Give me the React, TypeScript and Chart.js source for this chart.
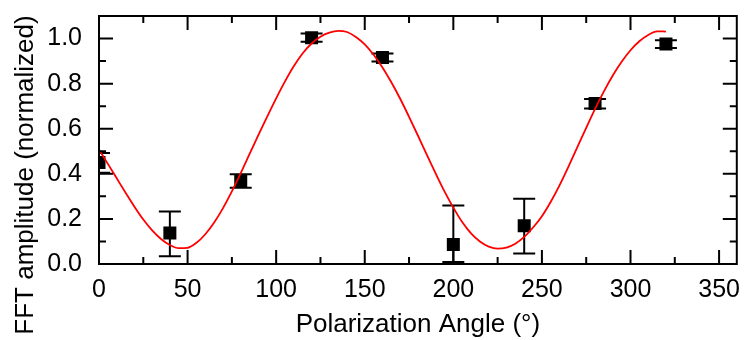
import React, { useEffect, useRef } from 'react';
import { Chart, registerables } from 'chart.js';

Chart.register(...registerables);

// Measured points
const angles = [0, 40, 80, 120, 160, 200, 240, 280, 320];
const amplitudes = [0.45, 0.138, 0.368, 1.004, 0.916, 0.086, 0.17, 0.712, 0.976];
const errLower = [0.405, 0.034, 0.338, 0.986, 0.898, 0.009, 0.047, 0.69, 0.958];
const errUpper = [0.492, 0.233, 0.398, 1.022, 0.934, 0.26, 0.289, 0.732, 0.992];

// Fitted curve
const fitAngles = [
  0, 5, 10, 15, 20, 25, 30, 35, 40, 45, 50, 55, 60, 65, 70, 75, 80, 85, 90, 95,
  100, 105, 110, 115, 120, 125, 130, 135, 140, 145, 150, 155, 160, 165, 170, 175,
  180, 185, 190, 195, 200, 205, 210, 215, 220, 225, 230, 235, 240, 245, 250, 255,
  260, 265, 270, 275, 280, 285, 290, 295, 300, 305, 310, 315, 320,
];
const fitValues = [
  0.508, 0.444, 0.38, 0.316, 0.254, 0.197, 0.149, 0.111, 0.084, 0.07, 0.072, 0.094,
  0.132, 0.184, 0.248, 0.322, 0.403, 0.488, 0.573, 0.655, 0.735, 0.81, 0.878, 0.935,
  0.978, 1.008, 1.026, 1.034, 1.029, 1.007, 0.974, 0.928, 0.872, 0.806, 0.733, 0.653,
  0.57, 0.485, 0.402, 0.322, 0.25, 0.186, 0.136, 0.1, 0.077, 0.068, 0.073, 0.09,
  0.12, 0.162, 0.212, 0.276, 0.35, 0.432, 0.518, 0.604, 0.688, 0.766, 0.836, 0.897,
  0.948, 0.988, 1.016, 1.032, 1.031,
];

const xTickValues = [0, 50, 100, 150, 200, 250, 300, 350];
const xTickLabels = ['0', '50', '100', '150', '200', '250', '300', '350'];
const xMinorTicks = [25, 75, 125, 175, 225, 275, 325];
const yTickValues = [0, 0.2, 0.4, 0.6, 0.8, 1.0];
const yTickLabels = ['0.0', '0.2', '0.4', '0.6', '0.8', '1.0'];
const yMinorTicks = [0.1, 0.3, 0.5, 0.7, 0.9];

const xTitle = 'Polarization Angle (°)';
const yTitle = 'FFT amplitude (normalized)';

const FONT = '"Liberation Sans", Arial, sans-serif';

const framePlugin = {
  id: 'framePlugin',
  beforeDatasetsDraw(chart: any) {
    const { ctx, chartArea: a, scales } = chart;
    const xs = scales.x;
    const ys = scales.y;
    ctx.save();
    ctx.beginPath();
    ctx.rect(a.left, a.top, a.right - a.left, a.bottom - a.top);
    ctx.clip();
    ctx.strokeStyle = '#000';
    ctx.lineWidth = 2;
    const cap = 11;
    for (let i = 0; i < angles.length; i++) {
      const px = xs.getPixelForValue(angles[i]);
      const yl = ys.getPixelForValue(errLower[i]);
      const yh = ys.getPixelForValue(errUpper[i]);
      ctx.beginPath();
      ctx.moveTo(px, yl);
      ctx.lineTo(px, yh);
      ctx.moveTo(px - cap, yl);
      ctx.lineTo(px + cap, yl);
      ctx.moveTo(px - cap, yh);
      ctx.lineTo(px + cap, yh);
      ctx.stroke();
    }
    ctx.restore();
  },
  afterDatasetsDraw(chart: any) {
    const { ctx, chartArea: a, scales } = chart;
    const xs = scales.x;
    const ys = scales.y;
    ctx.save();
    ctx.strokeStyle = '#000';
    ctx.lineWidth = 2;
    ctx.strokeRect(a.left, a.top, a.right - a.left, a.bottom - a.top);
    const major = 14;
    const minor = 7;
    ctx.beginPath();
    const xt = (v: number, len: number) => {
      const px = xs.getPixelForValue(v);
      ctx.moveTo(px, a.bottom);
      ctx.lineTo(px, a.bottom - len);
      ctx.moveTo(px, a.top);
      ctx.lineTo(px, a.top + len);
    };
    const yt = (v: number, len: number) => {
      const py = ys.getPixelForValue(v);
      ctx.moveTo(a.left, py);
      ctx.lineTo(a.left + len, py);
      ctx.moveTo(a.right, py);
      ctx.lineTo(a.right - len, py);
    };
    xTickValues.forEach((v) => xt(v, major));
    xMinorTicks.forEach((v) => xt(v, minor));
    yTickValues.forEach((v) => yt(v, major));
    yMinorTicks.forEach((v) => yt(v, minor));
    ctx.stroke();
    ctx.restore();
  },
  afterDraw(chart: any) {
    const { ctx, chartArea: a } = chart;
    ctx.save();
    ctx.fillStyle = '#000';
    ctx.font = `26px ${FONT}`;
    ctx.textAlign = 'center';
    ctx.textBaseline = 'alphabetic';
    ctx.fillText(xTitle, (a.left + a.right) / 2, 332);
    ctx.translate(33, 175);
    ctx.rotate(-Math.PI / 2);
    ctx.fillText(yTitle, 0, 0);
    ctx.restore();
  },
};

export default function App() {
  const ref = useRef<HTMLCanvasElement | null>(null);

  useEffect(() => {
    document.body.style.margin = '0';
    const canvas = ref.current;
    if (!canvas) return;
    const chart = new Chart(canvas, {
      type: 'scatter',
      data: {
        datasets: [
          {
            type: 'line',
            data: fitAngles.map((x, i) => ({ x, y: fitValues[i] })),
            borderColor: '#ff0000',
            borderWidth: 1.8,
            pointRadius: 0,
            fill: false,
            cubicInterpolationMode: 'monotone',
          } as any,
          {
            type: 'scatter',
            data: angles.map((x, i) => ({ x, y: amplitudes[i] })),
            pointStyle: 'rect',
            pointRadius: 9.2,
            backgroundColor: '#000',
            borderColor: '#000',
            borderWidth: 0,
          } as any,
        ],
      },
      options: {
        responsive: false,
        maintainAspectRatio: false,
        animation: false,
        layout: { padding: { left: 0, right: 6, top: 16, bottom: 0 } },
        plugins: {
          legend: { display: false },
          tooltip: { enabled: false },
          title: { display: false },
        },
        scales: {
          x: {
            type: 'linear',
            min: 0,
            max: 360,
            grid: { display: false, drawTicks: false },
            border: { display: false },
            ticks: {
              padding: 11,
              color: '#000',
              font: { family: FONT, size: 25 },
              maxRotation: 0,
              callback: (_v: any, i: number) => xTickLabels[i],
            },
            afterBuildTicks: (s: any) => {
              s.ticks = xTickValues.map((v) => ({ value: v }));
            },
            afterFit: (s: any) => {
              s.height = 76;
              s.paddingLeft = 0;
              s.paddingRight = 0;
            },
          },
          y: {
            type: 'linear',
            min: 0,
            max: 1.1,
            grid: { display: false, drawTicks: false },
            border: { display: false },
            ticks: {
              padding: 17,
              color: '#000',
              font: { family: FONT, size: 25 },
              callback: (_v: any, i: number) => yTickLabels[i],
            },
            afterBuildTicks: (s: any) => {
              s.ticks = yTickValues.map((v) => ({ value: v }));
            },
            afterFit: (s: any) => {
              s.width = 99;
              s.paddingTop = 0;
              s.paddingBottom = 0;
            },
          },
        },
      } as any,
      plugins: [framePlugin],
    });
    return () => chart.destroy();
  }, []);

  return (
    <div style={{ width: 746, height: 340 }}>
      <canvas ref={ref} width={746} height={340} style={{ display: 'block' }} />
    </div>
  );
}
